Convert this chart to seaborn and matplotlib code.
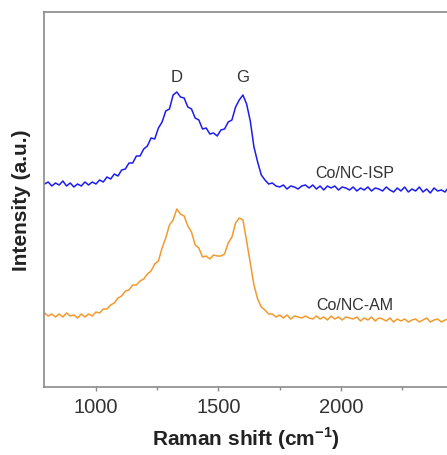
import numpy as np
import pandas as pd
import matplotlib
matplotlib.use("Agg")
import matplotlib.pyplot as plt
import seaborn as sns

# Raman shift grid (cm^-1)
shift = np.arange(790, 2441, 15)

# Co/NC-ISP spectrum (offset upward)
isp = [
    203, 205, 201, 204, 202, 206, 201, 204, 200, 203, 201, 205, 202, 205,
    203, 207, 205, 210, 208, 213, 211, 217, 218, 224, 224, 231, 231, 238,
    241, 249, 248, 259, 265, 276, 278, 292, 295, 290, 289, 280, 278, 269,
    267, 258, 259, 253, 254, 251, 257, 258, 265, 267, 280, 287, 292, 283,
    266, 240, 225, 212, 207, 203, 204, 201, 200, 202, 198, 201, 200, 198,
    201, 202, 199, 202, 198, 201, 197, 201, 199, 201, 197, 200, 199, 197,
    200, 196, 199, 197, 200, 196, 199, 198, 196, 200, 197, 195, 199, 196,
    200, 195, 198, 196, 200, 195, 198, 194, 199, 196, 197, 195, 200,
]

# Co/NC-AM spectrum
am = [
    74, 71, 73, 70, 73, 70, 74, 71, 72, 69, 73, 70, 73, 71,
    75, 74, 78, 78, 82, 84, 89, 91, 96, 97, 102, 102, 106, 108,
    113, 116, 123, 126, 139, 149, 162, 167, 178, 173, 171, 161, 155, 142,
    139, 130, 131, 128, 132, 131, 131, 133, 144, 150, 164, 169, 167, 146,
    124, 102, 88, 80, 77, 73, 73, 70, 72, 69, 72, 68, 71, 70,
    69, 71, 69, 68, 71, 68, 70, 67, 71, 68, 70, 67, 70, 69,
    68, 70, 66, 69, 67, 70, 66, 69, 68, 66, 69, 65, 68, 66,
    68, 65, 67, 68, 65, 67, 69, 65, 67, 68, 65, 67, 68,
]

samples = ["Co/NC-ISP", "Co/NC-AM"]
peak_labels = ["D", "G"]
peak_pos = [1330, 1600]
xticks = [1000, 1500, 2000]

df = pd.concat([
    pd.DataFrame({"shift": shift, "intensity": isp, "sample": samples[0]}),
    pd.DataFrame({"shift": shift, "intensity": am, "sample": samples[1]}),
])

sns.set_style("white")
plt.rcParams["font.family"] = ["Liberation Sans", "DejaVu Sans"]
plt.rcParams["mathtext.fontset"] = "custom"
plt.rcParams["mathtext.rm"] = "Liberation Sans"
plt.rcParams["mathtext.bf"] = "Liberation Sans:bold"

fig = plt.figure(figsize=(4.47, 4.56), dpi=100)
ax = fig.add_axes([44 / 447, 68 / 456, 403 / 447, 375 / 456])

sns.lineplot(data=df, x="shift", y="intensity", hue="sample",
             palette={samples[0]: "#1c1cf0", samples[1]: "#f29a2e"},
             linewidth=1.1, legend=False, ax=ax, estimator=None, sort=False)

ax.set_xlim(788, 2433)
ax.set_ylim(0, 375)

spine_col = "#8a8a8a"
for side in ["left", "bottom", "top"]:
    ax.spines[side].set_color(spine_col)
    ax.spines[side].set_linewidth(1.2)
ax.spines["right"].set_visible(False)

ax.set_xticks(xticks)
ax.set_xticks([1250, 1750, 2250], minor=True)
ax.set_yticks([])
ax.tick_params(axis="x", which="major", direction="out", length=3, width=1,
               color=spine_col, labelsize=14.5, labelcolor="#333333", pad=4,
               bottom=True)
ax.tick_params(axis="x", which="minor", direction="out", length=2, width=1,
               color=spine_col, bottom=True)

ax.set_xlabel(r"Raman shift (cm$^{\mathbf{-1}}$)", fontsize=15,
              fontweight="bold", color="#222222", labelpad=6)
ax.set_ylabel("Intensity (a.u.)", fontsize=15, fontweight="bold",
              color="#222222", labelpad=9)

for lab, pos in zip(peak_labels, peak_pos):
    ax.text(pos, 311, lab, ha="center", va="center", fontsize=12,
            color="#333333")

ax.text(2057, 215, samples[0], ha="center", va="center", fontsize=11.5,
        color="#333333")
ax.text(2057, 83, samples[1], ha="center", va="center", fontsize=11.5,
        color="#333333")

fig.savefig("out.png", dpi=100)
